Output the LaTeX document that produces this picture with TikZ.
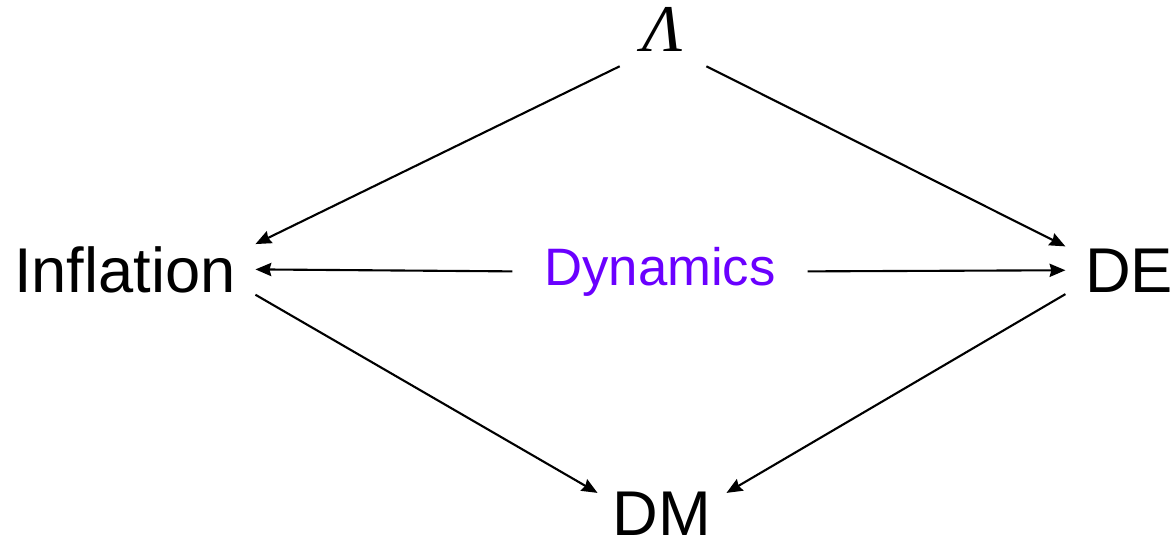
\documentclass[tikz,border=0pt]{standalone}
\usepackage{fontspec}
\setmainfont{Liberation Sans}
\newfontfamily\lamfont{Liberation Serif}
\usetikzlibrary{arrows.meta}
\definecolor{dynviolet}{HTML}{6A00FF}
\tikzset{
  bigword/.style={anchor=base, font=\fontsize{36}{40}\selectfont, inner ysep=1pt},
  link/.style={line width=1.2pt, -{Stealth[length=9pt,width=7.5pt,inset=1pt]}}
}
\begin{document}
\begin{tikzpicture}[x=0.02cm, y=-0.02cm]
  \useasboundingbox (0,0) rectangle (1175,542);
  % Corners of the diamond
  \node[bigword, font=\fontsize{38}{42}\selectfont, inner xsep=13pt, inner ysep=8.5pt] (lam) at (663,51) {\lamfont\itshape Λ};
  \node[bigword, inner xsep=11pt] (infl) at (125,292) {Inflation};
  \node[bigword, inner xsep=11pt] (de) at (1129,292) {DE};
  \node[bigword, inner xsep=8.5pt, inner ysep=-1pt] (dm) at (662,535) {DM};
  % Middle label
  \node[anchor=base, font=\fontsize{30}{34}\selectfont, text=dynviolet, inner xsep=18pt] (dyn) at (660,285) {Dynamics};
  % Upper arrows
  \draw[link] (lam.south west) -- (infl.north east);
  \draw[link] (lam.south east) -- (de.north west);
  % Horizontal arrows
  \draw[link] (dyn.west) -- (infl.east);
  \draw[link] (dyn.east) -- (de.west);
  % Lower arrows
  \draw[link] (infl.south east) -- (dm.north west);
  \draw[link] (de.south west) -- (dm.north east);
\end{tikzpicture}
\end{document}
